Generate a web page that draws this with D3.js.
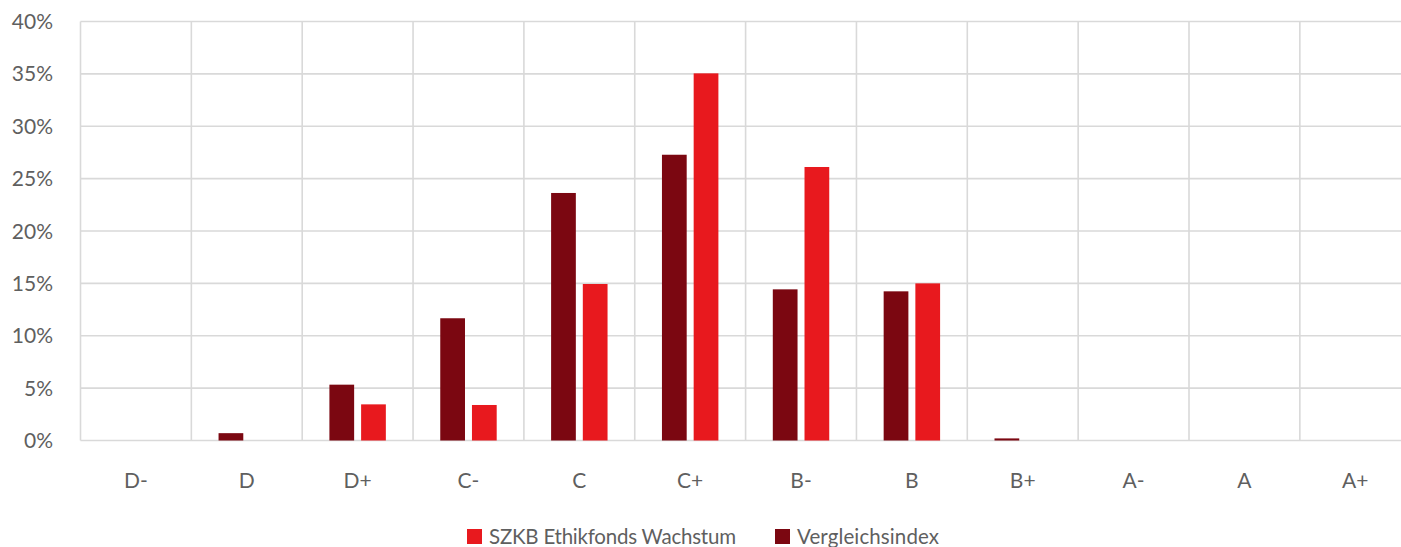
<!DOCTYPE html>
<html>
<head>
<meta charset="utf-8">
<script src="https://cdn.jsdelivr.net/npm/d3@7"></script>
<style>
  body { margin: 0; background: #fff; }
  svg { display: block; font-family: Lato, "Open Sans", sans-serif; }
</style>
</head>
<body>
<div id="chart"></div>
<script>
// Ratings on the x axis
const categories = ["D-", "D", "D+", "C-", "C", "C+", "B-", "B", "B+", "A-", "A", "A+"];

// Share of holdings per rating, in percent
const vergleichsindex = [0, 0.7, 5.33, 11.67, 23.63, 27.28, 14.43, 14.24, 0.2, 0, 0, 0];
const szkbWachstum    = [0, 0, 3.45, 3.39, 14.94, 35.05, 26.11, 15.0, 0, 0, 0, 0];

const yTicks = [0, 5, 10, 15, 20, 25, 30, 35, 40];

const series = [
  {key: "Vergleichsindex", values: vergleichsindex, color: "#7b0711"},
  {key: "SZKB Ethikfonds Wachstum", values: szkbWachstum, color: "#e8191e"}
];
const legendOrder = ["SZKB Ethikfonds Wachstum", "Vergleichsindex"];

const config = {
  width: 1401,
  height: 547,
  left: 80.5,
  right: 1410.7,
  top: 21.5,
  bottom: 440.5
};

const svg = d3.select("#chart").append("svg")
    .attr("width", config.width)
    .attr("height", config.height);

// Scales
const x0 = d3.scaleBand()
    .domain(categories)
    .range([config.left, config.right])
    .padding(0);

const x1 = d3.scaleBand()
    .domain(series.map(d => d.key))
    .range([0, x0.bandwidth()])
    .paddingInner(0.22)
    .paddingOuter(0.858);

const y = d3.scaleLinear()
    .domain([0, 40])
    .range([config.bottom, config.top]);

const grid = svg.append("g");

// Horizontal gridlines
grid.selectAll("line.h")
    .data(yTicks)
  .join("line")
    .attr("class", "h")
    .attr("x1", config.left)
    .attr("x2", config.right)
    .attr("y1", d => y(d))
    .attr("y2", d => y(d))
    .attr("stroke", "#d9d9d9")
    .attr("stroke-width", 1.6);

// Vertical gridlines at band edges
const edges = categories.map(c => x0(c)).concat([config.right]);
grid.selectAll("line.v")
    .data(edges)
  .join("line")
    .attr("class", "v")
    .attr("x1", d => d)
    .attr("x2", d => d)
    .attr("y1", config.top)
    .attr("y2", config.bottom)
    .attr("stroke", "#d9d9d9")
    .attr("stroke-width", 1.6);

// Y axis labels
svg.append("g")
  .selectAll("text")
    .data(yTicks)
  .join("text")
    .attr("x", 53)
    .attr("y", d => y(d))
    .attr("dy", "0.36em")
    .attr("text-anchor", "end")
    .attr("fill", "#5f5f5f")
    .attr("font-size", 21)
    .text(d => d + "%");

// X axis labels
svg.append("g")
  .selectAll("text")
    .data(categories)
  .join("text")
    .attr("x", d => x0(d) + x0.bandwidth() / 2)
    .attr("y", 487.5)
    .attr("text-anchor", "middle")
    .attr("fill", "#5f5f5f")
    .attr("font-size", 21)
    .text(d => d);

// Bars
const groups = svg.append("g")
  .selectAll("g")
    .data(series)
  .join("g")
    .attr("fill", d => d.color);

groups.selectAll("rect")
    .data(s => s.values.map((v, i) => ({key: s.key, cat: categories[i], value: v})))
  .join("rect")
    .attr("x", d => x0(d.cat) + x1(d.key))
    .attr("width", x1.bandwidth())
    .attr("y", d => y(d.value))
    .attr("height", d => y(0) - y(d.value));

// Legend
const legendItems = [
  {key: legendOrder[0], x: 467},
  {key: legendOrder[1], x: 775}
];
const legend = svg.append("g")
  .selectAll("g")
    .data(legendItems)
  .join("g")
    .attr("transform", d => `translate(${d.x},529)`);

legend.append("rect")
    .attr("width", 15)
    .attr("height", 15)
    .attr("fill", d => series.find(s => s.key === d.key).color);

legend.append("text")
    .attr("x", 22)
    .attr("y", 15)
    .attr("fill", "#5f5f5f")
    .attr("font-size", 20.5)
    .attr("textLength", d => d.key === legendOrder[0] ? 247 : 142)
    .text(d => d.key);
</script>
</body>
</html>
